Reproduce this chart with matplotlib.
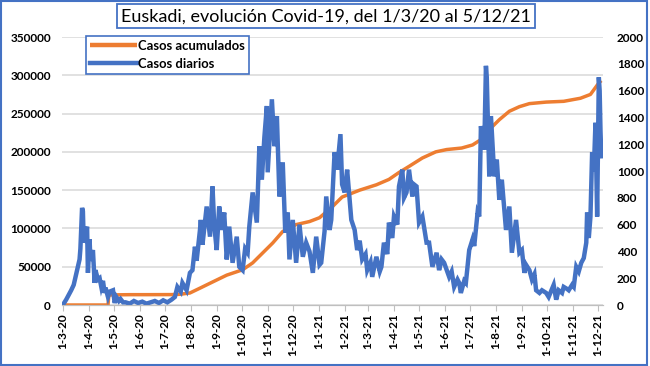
import matplotlib
matplotlib.use("Agg")
import matplotlib.pyplot as plt
import matplotlib.dates as mdates
from matplotlib.patches import Rectangle
import numpy as np

# days counted from 1-3-20
dia_diarios = [0, 4, 10, 13, 17, 20, 21, 23, 24, 25, 29, 30, 32, 33, 36, 38, 39, 42, 44, 46,
               48, 50, 51, 54, 56, 60, 62, 64, 67, 69, 72, 75, 80, 85, 90, 95, 100, 105, 110,
               115, 120, 125, 130, 134, 137, 141, 143, 148, 152, 155, 158, 160, 164, 165, 167,
               172, 176, 179, 181, 184, 187, 190, 193, 196, 199, 203, 208, 211, 215, 218, 221,
               223, 227, 232, 235, 238, 241, 244, 245, 250, 253, 256, 259, 263, 266, 269, 271,
               275, 279, 283, 287, 291, 295, 299, 303, 307, 309, 313, 315, 319, 321, 325, 328,
               332, 334, 337, 340, 345, 349, 352, 355, 358, 362, 364, 368, 370, 375, 379, 381,
               384, 388, 390, 394, 396, 400, 402, 406, 408, 411, 414, 418, 420, 423, 426, 430,
               435, 438, 442, 447, 450, 453, 456, 462, 465, 468, 472, 474, 476, 480, 482, 486,
               490, 492, 496, 498, 500, 504, 506, 507, 510, 512, 516, 519, 522, 525, 530, 534,
               537, 542, 546, 549, 552, 554, 558, 561, 564, 566, 570, 573, 578, 581, 585, 587,
               590, 593, 597, 599, 603, 605, 609, 611, 614, 617, 620, 623, 626, 627, 629, 631,
               633, 635, 637, 639, 641, 642, 643, 644]
casos_diarios = [0, 40, 110, 150, 260, 340, 420, 725, 700, 465, 585, 240, 490, 330, 410, 165, 260,
                 190, 200, 135, 180, 90, 130, 60, 100, 110, 15, 60, 30, 45, 20, 20, 10, 30, 15, 25,
                 10, 20, 30, 15, 35, 20, 40, 60, 135, 100, 165, 110, 240, 260, 435, 330, 560, 635,
                 450, 735, 510, 885, 600, 410, 735, 560, 690, 340, 585, 315, 510, 285, 260, 420,
                 390, 585, 840, 615, 1185, 935, 1250, 1485, 990, 1535, 1185, 1410, 810, 1065, 540,
                 690, 340, 635, 315, 600, 360, 465, 400, 240, 510, 300, 315, 550, 810, 560, 635,
                 1140, 1010, 1275, 900, 840, 1010, 635, 560, 410, 480, 340, 380, 260, 320, 210,
                 360, 250, 285, 465, 380, 615, 500, 660, 600, 885, 1010, 800, 840, 1010, 810, 900,
                 885, 615, 660, 465, 465, 285, 390, 260, 340, 315, 210, 250, 135, 190, 165, 90,
                 180, 165, 410, 490, 440, 690, 660, 1335, 1160, 1785, 1700, 960, 1410, 960, 1085,
                 785, 935, 560, 735, 390, 635, 390, 410, 240, 300, 260, 190, 230, 110, 90, 110,
                 90, 60, 120, 150, 40, 110, 90, 135, 120, 110, 150, 135, 285, 250, 315, 350, 465,
                 690, 500, 660, 1140, 1000, 1360, 660, 1700, 1600, 1300, 1110]

dia_acum = [0, 54, 55, 60, 80, 100, 130, 140, 152, 164, 179, 196, 215, 227, 239, 251, 263, 279,
            295, 307, 322, 334, 355, 375, 390, 402, 414, 430, 446, 459, 477, 490, 500, 510, 522,
            534, 546, 558, 578, 599, 619, 631, 635, 641, 644]
casos_acum = [0, 0, 13000, 13200, 13500, 13500, 13600, 14000, 15700, 22000, 30000, 39000, 46000,
              55000, 68000, 81000, 96000, 105000, 109000, 114000, 128000, 141000, 150000, 157000,
              164000, 173000, 181000, 192000, 200000, 203000, 205000, 209000, 216000, 229000,
              242000, 253000, 259000, 263000, 265000, 266000, 270000, 275000, 281000, 290000,
              293000]

inicio = np.datetime64("2020-03-01")
fechas_diarios = inicio + np.array(dia_diarios).astype("timedelta64[D]")
fechas_acum = inicio + np.array(dia_acum).astype("timedelta64[D]")
meses = np.arange(np.datetime64("2020-03"), np.datetime64("2022-01"), dtype="datetime64[M]").astype("datetime64[D]")

naranja = "#ED7D31"
azul = "#4472C4"
fuente = "Lato"

fig = plt.figure(figsize=(6.5, 3.66), dpi=100)
ax = fig.add_axes([62 / 650, 61 / 366, 541 / 650, 268 / 366])
ax2 = ax.twinx()

l1, = ax.plot(fechas_acum, casos_acum, color=naranja, lw=2.5, solid_capstyle="butt")
l2, = ax2.plot(fechas_diarios, casos_diarios, color=azul, lw=3.2, solid_joinstyle="miter")

ax.set_ylim(0, 350000)
ax.set_yticks(np.arange(0, 350001, 50000))
ax2.set_ylim(0, 2000)
ax2.set_yticks(np.arange(0, 2001, 200))
ax.set_xlim(inicio - np.timedelta64(1, "D"), inicio + np.timedelta64(646, "D"))
ax.set_xticks(meses)
ax.xaxis.set_major_formatter(mdates.DateFormatter("%-d-%-m-%y"))

ax.grid(axis="y", color="#D9D9D9", lw=1.1)
ax.set_axisbelow(True)
for a in (ax, ax2):
    for s in ("top", "left", "right"):
        a.spines[s].set_visible(False)
    a.spines["bottom"].set_color("#BFBFBF")
ax.tick_params(axis="y", length=0, pad=8)
ax2.tick_params(axis="y", length=0, pad=10)
ax.tick_params(axis="x", length=4, color="#BFBFBF", pad=2)
for lab in ax.get_xticklabels():
    lab.set_rotation(90)
for lab in ax.get_xticklabels() + ax.get_yticklabels() + ax2.get_yticklabels():
    lab.set_fontfamily(fuente)
    lab.set_fontweight("bold")
    lab.set_fontsize(8.5)

leg = ax2.legend([l1, l2], ["Casos acumulados", "Casos diarios"], loc="upper left",
                 bbox_to_anchor=(86 / 650, 1 - 36 / 366), bbox_transform=fig.transFigure,
                 fancybox=False, framealpha=1, edgecolor=azul, handlelength=3.6,
                 handletextpad=0.1, borderpad=0.3, labelspacing=0.45, borderaxespad=0,
                 prop={"family": fuente, "weight": "bold", "size": 9.4})
leg.get_frame().set_linewidth(1.2)
for h in leg.get_lines():
    h.set_linewidth(3.2)

fig.text(0.502, 0.955, "Euskadi, evolución Covid-19, del 1/3/20 al 5/12/21", ha="center",
         va="center", fontsize=13, fontfamily=fuente,
         bbox=dict(boxstyle="square,pad=0.22", fc="white", ec=azul, lw=1.3))

fig.add_artist(Rectangle((0.002, 0.004), 0.993, 0.992, transform=fig.transFigure,
                         fill=False, ec=azul, lw=1.5))

fig.savefig("out.png", dpi=100)
